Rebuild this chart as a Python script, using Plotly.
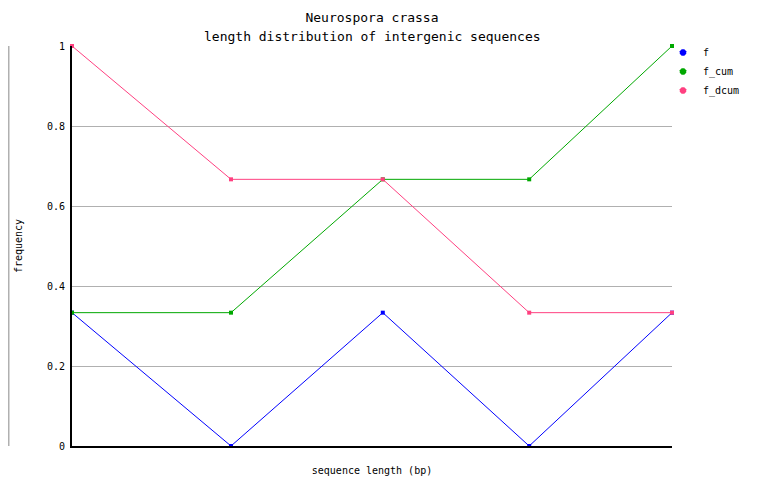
import plotly.graph_objects as go

# x positions of the length bins (no tick labels shown in reference)
x_pos = [0.0, 0.265, 0.518, 0.762, 1.0]
f = [1/3, 0.0, 1/3, 0.0, 1/3]
f_cum = [1/3, 1/3, 2/3, 2/3, 1.0]
f_dcum = [1.0, 2/3, 2/3, 1/3, 1/3]
series_names = ["f", "f_cum", "f_dcum"]
series_colors = ["#0000ff", "#00a800", "#ff4080"]
y_ticks = [0, 0.2, 0.4, 0.6, 0.8, 1]
y_ticklabels = ["0", "0.2", "0.4", "0.6", "0.8", "1"]

FONT = "DejaVu Sans Mono"
W, H = 754, 490   # page has 8px body margin
L, R, T, B = 64, 90, 38, 52
PW = W - L - R
PH = H - T - B

fig = go.Figure()
for name, vals, col in zip(series_names, [f, f_cum, f_dcum], series_colors):
    fig.add_trace(go.Scatter(x=x_pos, y=vals, name=name, mode="lines+markers",
                             line=dict(color=col, width=1), showlegend=False,
                             marker=dict(color=col, size=4, symbol="square"),
                             cliponaxis=False))
# legend entries (marker only)
for name, col in zip(series_names, series_colors):
    fig.add_trace(go.Scatter(x=[None], y=[None], name=name, mode="markers",
                             marker=dict(color=col, size=7, symbol="octagon")))

fig.update_layout(
    width=W, height=H,
    margin=dict(l=L, r=R, t=T, b=B, autoexpand=False),
    paper_bgcolor="white", plot_bgcolor="white",
    font=dict(family=FONT, size=11, color="black"),
    title=dict(text="Neurospora crassa",
               x=(L + PW / 2) / W, xanchor="center", y=1 - 9 / H, yanchor="middle",
               font=dict(family=FONT, size=13, color="black")),
    showlegend=True,
    legend=dict(x=1.0 - 9 / PW, y=1.02, xanchor="left", yanchor="top",
                font=dict(family=FONT, size=10), bgcolor="rgba(0,0,0,0)",
                itemwidth=30, tracegroupgap=0),
    xaxis=dict(range=[0, 1], showticklabels=False, ticks="", showgrid=False,
               zeroline=False, showline=True, linecolor="black", linewidth=2,
               title=dict(text="sequence length (bp)", font=dict(family=FONT, size=10), standoff=20)),
    yaxis=dict(range=[0, 1], tickvals=y_ticks, ticktext=y_ticklabels,
               showgrid=True, gridcolor="#b0b0b0", gridwidth=1,
               zeroline=False, showline=True, linecolor="black", linewidth=2,
               ticks="", tickfont=dict(family=FONT, size=10), ticklabelstandoff=3,
               title=dict(text="frequency", font=dict(family=FONT, size=10), standoff=22)),
)
fig.add_annotation(text="length distribution of intergenic sequences", xref="paper", yref="paper",
                   x=0.5, y=1 + 10 / PH, xanchor="center", yanchor="middle", showarrow=False,
                   font=dict(family=FONT, size=13, color="black"))
fig.add_shape(type="line", xref="paper", yref="paper", x0=-(L - 0.5) / PW, x1=-(L - 0.5) / PW, y0=0, y1=1,
              line=dict(color="#b0b0b0", width=2))
fig.write_html("out.html")
